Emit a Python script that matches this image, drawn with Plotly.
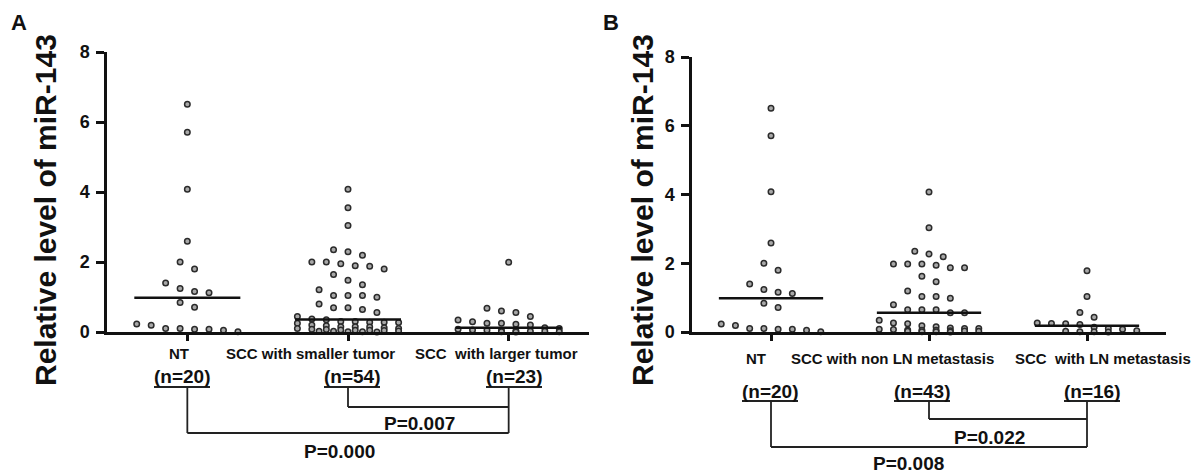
import plotly.graph_objects as go
import numpy as np

W, H = 1200, 473
OFF = 8  # default page body margin of the html page

# ---------------- data ----------------
categories_a = ["NT", "SCC with smaller tumor", "SCC  with larger tumor"]
n_labels_a = ["(n=20)", "(n=54)", "(n=23)"]
categories_b = ["NT", "SCC with non LN metastasis", "SCC  with LN metastasis"]
n_labels_b = ["(n=20)", "(n=43)", "(n=16)"]

nt_values = [6.51, 5.71, 4.08, 2.59, 2.0, 1.8, 1.4, 1.24, 1.16, 1.12,
             0.84, 0.71, 0.23, 0.19, 0.1, 0.1, 0.08, 0.08, 0.05, 0.01]
smaller_tumor = [4.08, 3.55, 3.04, 2.35, 2.29, 2.19, 2.0, 2.0, 1.95, 1.89,
                 1.88, 1.8, 1.64, 1.48, 1.35, 1.21, 1.04, 1.04, 1.04, 0.99,
                 0.8, 0.69, 0.69, 0.64, 0.56, 0.44, 0.37, 0.35, 0.3, 0.3,
                 0.28, 0.28, 0.27, 0.25, 0.2, 0.18, 0.15, 0.15, 0.14, 0.12,
                 0.1, 0.1, 0.08, 0.07, 0.06, 0.05, 0.05, 0.04, 0.03, 0.02,
                 0.02, 0.01, 0.01, 0.0]
larger_tumor = [1.99, 0.68, 0.6, 0.56, 0.44, 0.34, 0.29, 0.25, 0.25, 0.22,
                0.2, 0.12, 0.1, 0.08, 0.06, 0.05, 0.04, 0.03, 0.02, 0.02,
                0.01, 0.01, 0.0]
non_ln_meta = [4.07, 3.03, 2.35, 2.27, 2.19, 1.98, 1.98, 1.98, 1.94, 1.87,
               1.87, 1.62, 1.46, 1.19, 1.03, 1.03, 0.98, 0.79, 0.65, 0.65,
               0.65, 0.56, 0.56, 0.34, 0.26, 0.24, 0.18, 0.15, 0.12, 0.1,
               0.1, 0.08, 0.07, 0.06, 0.05, 0.05, 0.04, 0.03, 0.02, 0.02,
               0.01, 0.01, 0.0]
ln_meta = [1.78, 1.03, 0.57, 0.43, 0.26, 0.25, 0.24, 0.22, 0.14, 0.1,
           0.08, 0.04, 0.02, 0.01, 0.01, 0.0]

p_values_a = ["P=0.007", "P=0.000"]
p_values_b = ["P=0.022", "P=0.008"]
y_ticks = [0, 2, 4, 6, 8]
y_title = "Relative level of miR-143"
panel_letters = ["A", "B"]

FONT = "Liberation Sans, Arial, sans-serif"


def px(x):
    return (x - OFF) / W


def py(y):
    return 1 - (y - OFF) / H


def swarm(values, center, h=0.3, d=0.09, m=8):
    """Prism-like column scatter: bin close values into rows, spread rows symmetrically."""
    vals = sorted(values, reverse=True)
    xs, ys = [], []
    i = 0
    while i < len(vals):
        row = [vals[i]]
        j = i + 1
        while j < len(vals) and vals[j] > vals[i] - h and len(row) < m:
            row.append(vals[j])
            j += 1
        n = len(row)
        for k, v in enumerate(row):
            xs.append(center + (k - (n - 1) / 2) * d)
            ys.append(v)
        i = j
    return xs, ys


fig = go.Figure()

groups = [("x", "y", [nt_values, smaller_tumor, larger_tumor]),
          ("x2", "y2", [nt_values, non_ln_meta, ln_meta])]

for xa, ya, series in groups:
    for ci, vals in enumerate(series):
        c = ci + 0.5
        xs, ys = swarm(vals, c)
        fig.add_trace(go.Scatter(
            x=xs, y=ys, mode="markers", xaxis=xa, yaxis=ya,
            marker=dict(size=5.5, color="#a8a8a8",
                        line=dict(color="#2b2b2b", width=1.5)),
            cliponaxis=False, showlegend=False, hoverinfo="y"))
        med = float(np.median(vals))
        fig.add_trace(go.Scatter(
            x=[c - 0.33, c + 0.33], y=[med, med], mode="lines",
            xaxis=xa, yaxis=ya, line=dict(color="#111", width=2.5),
            cliponaxis=False, showlegend=False, hoverinfo="skip"))

axis_common = dict(showline=True, linecolor="#111", linewidth=2.5,
                   ticks="outside", tickcolor="#111", tickwidth=2.5,
                   showgrid=False, zeroline=False)
ytick_font = dict(family=FONT, size=18, color="#111", weight="bold")

fig.update_layout(
    width=W, height=H, autosize=False,
    margin=dict(l=0, r=0, t=0, b=0, autoexpand=False),
    paper_bgcolor="white", plot_bgcolor="white",
    xaxis=dict(domain=[px(107), px(589)], range=[0, 3], tickvals=[0.5, 1.5, 2.5],
               ticktext=["", "", ""], ticklen=6, anchor="y", **axis_common),
    yaxis=dict(domain=[py(332), py(52)], range=[0, 8], tickvals=y_ticks,
               ticklen=8, ticklabelstandoff=3, anchor="x", tickfont=ytick_font,
               **axis_common),
    xaxis2=dict(domain=[px(692), px(1166)], range=[0, 3], tickvals=[0.5, 1.5, 2.5],
                ticktext=["", "", ""], ticklen=6, anchor="y2", **axis_common),
    yaxis2=dict(domain=[py(332), py(57)], range=[0, 8], tickvals=y_ticks,
                ticklen=8, ticklabelstandoff=3, anchor="x2", tickfont=ytick_font,
                **axis_common),
)


def ptxt(text, x, y, size, bold=True, angle=0):
    return dict(text=text, x=px(x), y=py(y), xref="paper", yref="paper",
                showarrow=False, xanchor="center", yanchor="middle", textangle=angle,
                font=dict(family=FONT, size=size, color="#111",
                          weight="bold" if bold else "normal"))


ann = []
# panel letters and y titles
ann.append(ptxt(panel_letters[0], 19, 22, 22))
ann.append(ptxt(panel_letters[1], 611, 22, 22))
ann.append(ptxt(y_title, 46, 210, 30, angle=-90))
ann.append(ptxt(y_title, 643, 210, 30, angle=-90))

# category labels
for t, x in zip(categories_a, [179, 310, 496]):
    ann.append(ptxt(t, x, 353, 15))
for t, x in zip(categories_b, [756, 892, 1103]):
    ann.append(ptxt(t, x, 358, 15))

# n labels
n_pos_a = [182, 352, 514]
n_pos_b = [770, 922, 1092]
for t, x in zip(n_labels_a, n_pos_a):
    ann.append(ptxt(t, x, 376, 19))
for t, x in zip(n_labels_b, n_pos_b):
    ann.append(ptxt(t, x, 391, 19))

# p values
ann.append(ptxt(p_values_a[0], 419, 423, 19))
ann.append(ptxt(p_values_a[1], 339, 451, 19))
ann.append(ptxt(p_values_b[0], 989, 437, 19))
ann.append(ptxt(p_values_b[1], 908, 463, 19))

fig.update_layout(annotations=ann)

shapes = []
LC = "#222"


def pline(x0, y0, x1, y1, xref="paper", w=1.8):
    if xref == "paper":
        x0, x1 = px(x0), px(x1)
    return dict(type="line", xref=xref, yref="paper", x0=x0, x1=x1,
                y0=py(y0), y1=py(y1), line=dict(color=LC, width=w))


# underlines under n labels
for x in n_pos_a:
    shapes.append(pline(x - 28, 387, x + 28, 387))
for x in n_pos_b:
    shapes.append(pline(x - 28, 401, x + 28, 401))

# brackets
for xref, y_top, y_big, y_small in [("x", 387, 433, 407), ("x2", 401, 447, 419)]:
    shapes.append(pline(0.5, y_top, 0.5, y_big, xref))
    shapes.append(pline(0.5, y_big, 2.5, y_big, xref))
    shapes.append(pline(2.5, y_top, 2.5, y_big, xref))
    shapes.append(pline(1.5, y_top, 1.5, y_small, xref))
    shapes.append(pline(1.5, y_small, 2.5, y_small, xref))

fig.update_layout(shapes=shapes)

fig.write_html("out.html")
